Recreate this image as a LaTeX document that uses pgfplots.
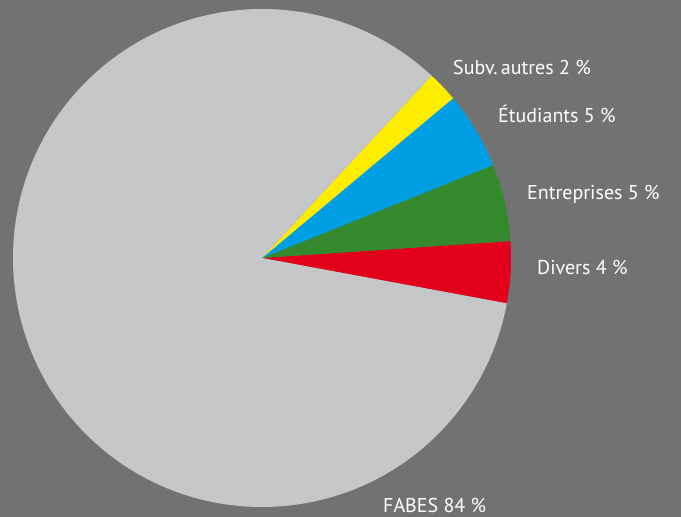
\documentclass[border=0pt]{standalone}
\usepackage{pgfplots}
\pgfplotsset{compat=1.18}
\usepackage{pgfplotstable}
\usepackage{fontspec}
\setmainfont{PT Sans}
\definecolor{bgcol}{HTML}{717274}
\definecolor{cGray}{HTML}{C6C7C8}
\definecolor{cRed}{HTML}{E2001A}
\definecolor{cGreen}{HTML}{33892B}
\definecolor{cBlue}{HTML}{009FE3}
\definecolor{cYellow}{HTML}{FFED00}

% shares in percent, counter-clockwise from the red slice
\pgfplotstableread{
pct colour
4 cRed
5 cGreen
5 cBlue
2 cYellow
84 cGray
}\piedata

\begin{document}
\begin{tikzpicture}
\begin{axis}[
  width=681bp, height=517bp,
  scale only axis,
  xmin=0, xmax=681, ymin=0, ymax=517,
  hide axis,
  clip=false,
]
\fill[bgcol] (rel axis cs:0,0) rectangle (rel axis cs:1,1);
\def\startang{-10.5}
\pgfplotsforeachungrouped \i in {0,...,4} {
  \pgfplotstablegetelem{\i}{pct}\of\piedata \let\p\pgfplotsretval
  \pgfplotstablegetelem{\i}{colour}\of\piedata \let\c\pgfplotsretval
  \pgfmathsetmacro\endang{\startang+3.6*\p}
  \edef\temp{\noexpand\fill[\c] (axis cs:262,259) -- (axis cs:{262+249*cos(\startang)},{259+249*sin(\startang)}) arc[start angle=\startang, end angle=\endang, radius=249bp] -- cycle;}
  \temp
  \global\let\startang\endang
}
\begin{scope}[every node/.style={anchor=base west, inner sep=0pt, text=white, font=\fontsize{20bp}{24bp}\selectfont}]
\node at (axis cs:453,442) {Subv.\,autres 2 \%};
\node at (axis cs:498,394) {Étudiants 5 \%};
\node at (axis cs:527,317) {Entreprises 5 \%};
\node at (axis cs:537,242) {Divers 4 \%};
\node at (axis cs:383,5) {FABES 84 \%};
\end{scope}
\end{axis}
\pgfresetboundingbox
\path[use as bounding box] (current axis.south west) rectangle (current axis.north east);
\end{tikzpicture}
\end{document}
